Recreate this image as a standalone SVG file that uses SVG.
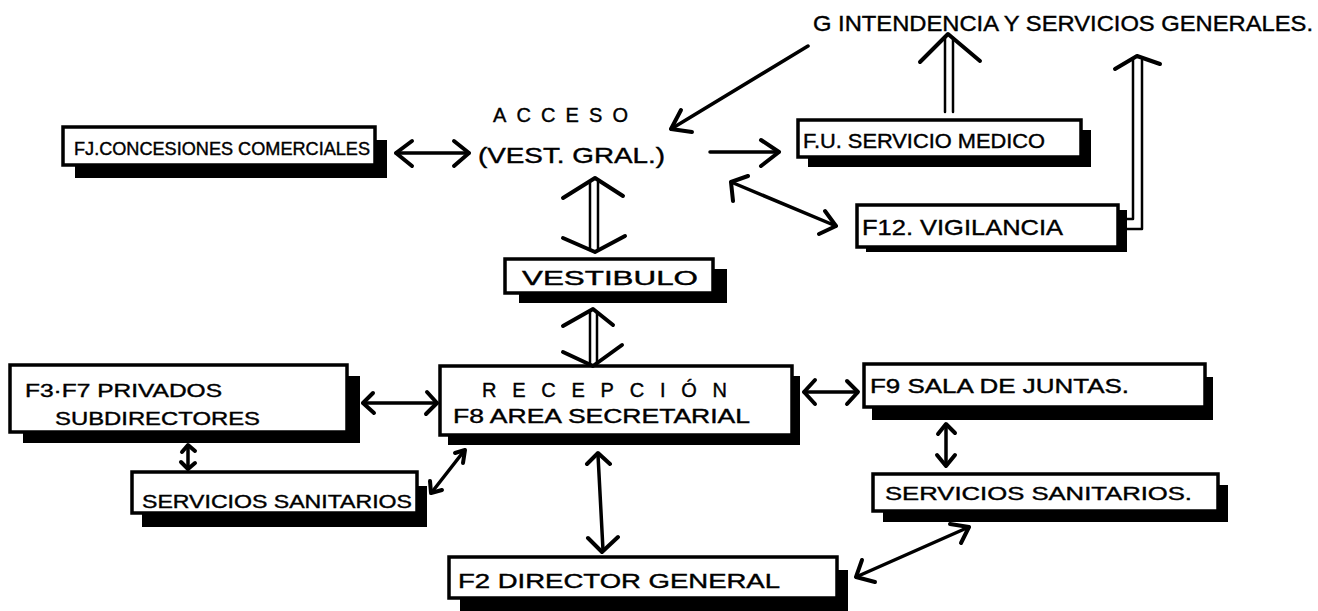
<svg xmlns="http://www.w3.org/2000/svg" width="1318" height="611" viewBox="0 0 1318 611">
<style>
.bg{fill:#ffffff}
.sh{fill:#000000}
.box{fill:#ffffff;stroke:#000000;stroke-width:3.5}
.t{font-family:"Liberation Sans","DejaVu Sans",sans-serif;fill:#000000;stroke:#000000;stroke-width:0.4}
.ln{fill:none;stroke:#000000;stroke-width:3.5;stroke-linecap:round;stroke-linejoin:round}
.dl{fill:none;stroke:#000000;stroke-width:2.5;stroke-linecap:round;stroke-linejoin:round}
.hd{fill:none;stroke:#000000;stroke-width:4;stroke-linecap:round;stroke-linejoin:round}
</style>
<rect class="bg" x="0" y="0" width="1318" height="611"/>

<g id="n-intendencia">
<text class="t" x="813" y="31" font-size="22" textLength="500" lengthAdjust="spacingAndGlyphs">G INTENDENCIA Y SERVICIOS GENERALES.</text>
</g>
<g id="n-acceso">
<text class="t" x="493" y="122" font-size="20" textLength="135" lengthAdjust="spacing">ACCESO</text>
<text class="t" x="478" y="163" font-size="22" textLength="187" lengthAdjust="spacingAndGlyphs">(VEST. GRAL.)</text>
</g>
<g id="n-concesiones">
<rect class="sh" x="75" y="140" width="312" height="38"/>
<rect class="box" x="63" y="127" width="312" height="38"/>
<text class="t" x="74" y="155" font-size="18" textLength="296" lengthAdjust="spacingAndGlyphs">FJ.CONCESIONES COMERCIALES</text>
</g>
<g id="n-medico">
<rect class="sh" x="808" y="130" width="283" height="37"/>
<rect class="box" x="798" y="120" width="283" height="37"/>
<text class="t" x="803" y="148" font-size="20" textLength="242" lengthAdjust="spacingAndGlyphs">F.U. SERVICIO MEDICO</text>
</g>
<g id="n-vigilancia">
<rect class="sh" x="866" y="210" width="261" height="42"/>
<rect class="box" x="857" y="205" width="261" height="42"/>
<text class="t" x="862" y="235" font-size="22" textLength="201" lengthAdjust="spacingAndGlyphs">F12. VIGILANCIA</text>
</g>
<g id="n-vestibulo">
<rect class="sh" x="519" y="269" width="208" height="34"/>
<rect class="box" x="505" y="259" width="208" height="34"/>
<text class="t" x="522" y="285" font-size="20" textLength="176" lengthAdjust="spacingAndGlyphs">VESTIBULO</text>
</g>
<g id="n-recepcion">
<rect class="sh" x="448" y="376" width="352" height="69"/>
<rect class="box" x="440" y="366" width="352" height="69"/>
<text class="t" x="482" y="397" font-size="20" textLength="245" lengthAdjust="spacing">RECEPCIÓN</text>
<text class="t" x="453" y="423" font-size="20" textLength="297" lengthAdjust="spacingAndGlyphs">F8 AREA SECRETARIAL</text>
</g>
<g id="n-privados">
<rect class="sh" x="23" y="376" width="337" height="67"/>
<rect class="box" x="10" y="365" width="337" height="67"/>
<text class="t" x="25" y="397" font-size="19" textLength="197" lengthAdjust="spacingAndGlyphs">F3·F7 PRIVADOS</text>
<text class="t" x="55" y="425" font-size="19" textLength="205" lengthAdjust="spacingAndGlyphs">SUBDIRECTORES</text>
</g>
<g id="n-sanitarios-izq">
<rect class="sh" x="142" y="486" width="285" height="41"/>
<rect class="box" x="132" y="472" width="285" height="41"/>
<text class="t" x="142" y="508" font-size="19" textLength="270" lengthAdjust="spacingAndGlyphs">SERVICIOS SANITARIOS</text>
</g>
<g id="n-sala">
<rect class="sh" x="872" y="377" width="341" height="43"/>
<rect class="box" x="864" y="364" width="341" height="43"/>
<text class="t" x="870" y="393" font-size="20" textLength="259" lengthAdjust="spacingAndGlyphs">F9 SALA DE JUNTAS.</text>
</g>
<g id="n-sanitarios-der">
<rect class="sh" x="883" y="485" width="345" height="37"/>
<rect class="box" x="873" y="474" width="345" height="37"/>
<text class="t" x="885" y="500" font-size="19" textLength="307" lengthAdjust="spacingAndGlyphs">SERVICIOS SANITARIOS.</text>
</g>
<g id="n-director">
<rect class="sh" x="460" y="570" width="388" height="41"/>
<rect class="box" x="449" y="557" width="388" height="41"/>
<text class="t" x="458" y="588" font-size="20" textLength="322" lengthAdjust="spacingAndGlyphs">F2 DIRECTOR GENERAL</text>
</g>

<g id="connectors">
<!-- concesiones <-> acceso -->
<path class="ln" d="M396 153 H469"/>
<path class="hd" d="M412 141 L396 153 L412 166 M454 141 L469 153 L454 166"/>
<!-- acceso -> medico -->
<path class="ln" d="M710 152 H779"/>
<path class="hd" d="M761 140 L779 152 L761 166"/>
<!-- intendencia -> acceso -->
<path class="ln" d="M808 46 L671 129"/>
<path class="hd" d="M681 110 L671 129 L692 132"/>
<!-- acceso <-> vigilancia -->
<path class="ln" d="M731 182 L836 226"/>
<path class="hd" d="M748 176 L731 182 L733 201 M825 211 L836 226 L819 234"/>
<!-- acceso <-> vestibulo (double) -->
<path class="dl" d="M590 182 V250 M598 182 V250"/>
<path class="hd" d="M563 198 L595 178 L623 196 M563 238 L595 252 L625 236"/>
<!-- medico -> intendencia (double) -->
<path class="dl" d="M945 38 V112 M953 38 V112"/>
<path class="hd" d="M920 62 L948 34 L980 61"/>
<!-- vigilancia -> intendencia (double) -->
<path class="dl" d="M1119 219 H1133 V60 M1119 229 H1142 V60"/>
<path class="hd" d="M1115 69 L1137 56 L1160 64"/>
<!-- vestibulo <-> recepcion (double) -->
<path class="dl" d="M590 312 V363 M597 312 V363"/>
<path class="hd" d="M563 326 L593 309 L613 325 M563 352 L593 366 L622 345"/>
<!-- privados <-> recepcion -->
<path class="ln" d="M363 403 H437"/>
<path class="hd" d="M373 393 L363 403 L374 413 M427 392 L437 403 L426 414"/>
<!-- privados <-> sanitarios izq -->
<path class="ln" d="M188 446 V467"/>
<path class="hd" d="M182 452 L188 445 L195 451 M181 462 L188 469 L195 463"/>
<!-- sanitarios izq <-> recepcion -->
<path class="ln" d="M432 492 L464 451"/>
<path class="hd" d="M430 481 L431 493 L442 490 M455 453 L465 450 L463 463"/>
<!-- recepcion <-> director -->
<path class="ln" d="M598 455 L603 550"/>
<path class="hd" d="M587 464 L598 453 L610 464 M588 538 L602 552 L618 537"/>
<!-- recepcion <-> sala -->
<path class="ln" d="M804 392 H857"/>
<path class="hd" d="M815 380 L804 392 L815 404 M847 381 L858 392 L847 404"/>
<!-- sala <-> sanitarios der -->
<path class="ln" d="M946 425 V464"/>
<path class="hd" d="M938 434 L946 424 L955 433 M937 455 L946 466 L955 455"/>
<!-- sanitarios der <-> director -->
<path class="ln" d="M969 527 L856 577"/>
<path class="hd" d="M950 524 L969 527 L961 543 M862 560 L856 577 L875 582"/>
</g>
</svg>
